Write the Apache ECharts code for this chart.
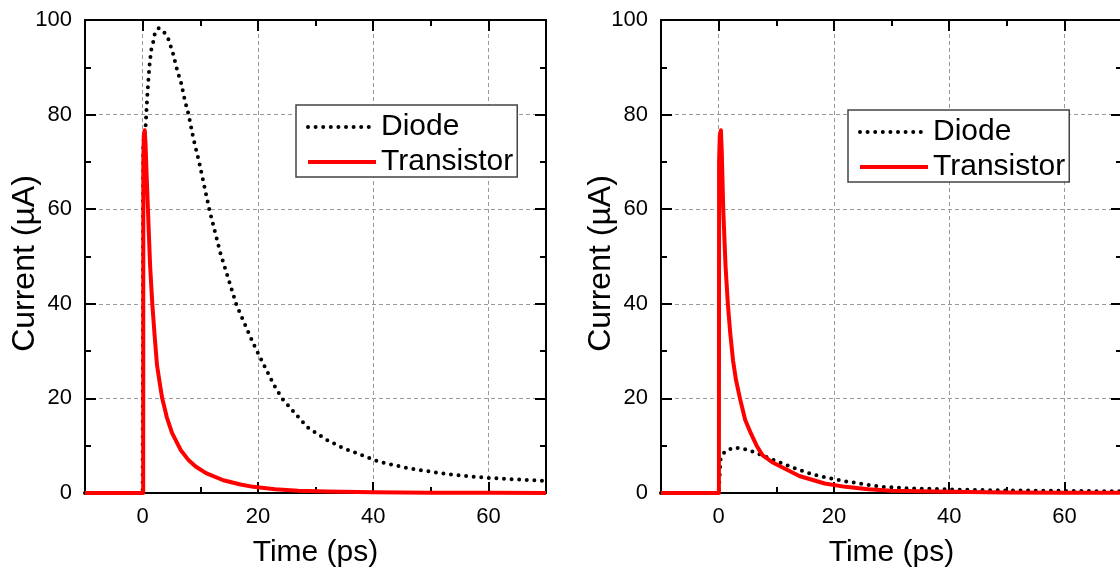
<!DOCTYPE html>
<html>
<head>
<meta charset="utf-8">
<script src="https://cdn.jsdelivr.net/npm/echarts@6/dist/echarts.min.js"></script>
<style>
  html, body { margin: 0; padding: 0; background: #fff; }
  #chart { width: 1120px; height: 569px; }
</style>
</head>
<body>
<div id="chart"></div>
<script>
// Panel A: diode and transistor current pulses (time in ps, current in µA)
const timeDiodeA = [-10, 0, 0.1, 0.5, 0.8, 1.0, 1.2, 1.5, 1.85, 2.1, 2.8, 3.7, 4.5, 5.3, 6.0, 6.7, 7.3, 8.0, 8.8, 9.8, 11.6, 13.5, 16.3, 18.7, 19.6, 22.8, 24.2, 27.7, 28.8, 32, 34.6, 41, 46.2, 52.8, 59.7, 69.3, 70];
const currentDiodeA = [0, 0, 74, 77.1, 83.8, 87.3, 90.5, 93.7, 95.4, 97, 98.3, 97.5, 95.9, 92.8, 89.4, 86.6, 83.1, 79.9, 75, 70, 59.8, 50.7, 39.7, 33.0, 30.6, 22.8, 20, 15.1, 13.7, 11.2, 9.6, 6.6, 5.2, 4.0, 3.2, 2.6, 2.55];
const timeTransA = [-10, 0.1, 0.12, 0.2, 0.35, 0.5, 0.7, 0.92, 1.3, 1.68, 2.1, 2.5, 3.0, 3.4, 4.2, 5.1, 6.6, 8.0, 9.2, 11, 14, 17, 19.2, 23, 27, 32, 40, 50, 60, 70];
const currentTransA = [0, 0, 70, 75.5, 76.7, 74, 67, 60, 48, 40, 33, 27, 23, 20, 16, 12.7, 9.1, 6.9, 5.6, 4.2, 2.7, 1.8, 1.3, 0.8, 0.5, 0.3, 0.15, 0.07, 0.03, 0.02];

// Panel B
const timeDiodeB = [-10, 0, 0.35, 1.05, 2.5, 3.8, 5.2, 6.3, 8.9, 10.3, 11.4, 12.8, 14.0, 15.4, 16.7, 19.3, 21.9, 25, 28.4, 33, 40, 50, 60, 70];
const currentDiodeB = [0, 0, 7.3, 8.7, 9.6, 9.5, 9.1, 8.6, 7.3, 6.6, 6.1, 5.4, 4.9, 4.3, 3.8, 3.1, 2.5, 1.9, 1.3, 1.0, 0.75, 0.55, 0.45, 0.35];
const timeTransB = [-10, 0.05, 0.08, 0.2, 0.4, 0.55, 0.8, 1.2, 1.6, 2.0, 2.5, 3.0, 3.7, 4.6, 5.6, 6.6, 7.6, 9.3, 11.1, 14, 18.4, 22, 26, 30, 40, 50, 60, 70];
const currentTransB = [0, 0, 70, 75.5, 76.7, 72, 60, 48, 40, 34, 28, 24, 20, 15.5, 12.6, 10, 8.0, 6.5, 5.4, 3.6, 2.0, 1.3, 0.8, 0.5, 0.25, 0.12, 0.06, 0.03];

const seriesNames = ['Diode', 'Transistor'];
const xTitle = 'Time (ps)';
const yTitle = 'Current (µA)';

const FONT = '"Liberation Sans", Arial, sans-serif';
const zip = (xs, ys) => xs.map((x, i) => [x, ys[i]]);

const diodeLine = { color: '#000', width: 4, type: [0, 7.6], cap: 'round' };
const transLine = { color: '#ff0000', width: 4, cap: 'butt', join: 'round' };

const frameLine = { show: true, onZero: false, lineStyle: { color: '#000', width: 2 } };
const gridDash = { show: true, lineStyle: { color: '#9a9a9a', width: 1, type: [4, 3] } };

function xAxesFor(g) {
  const base = { type: 'value', gridIndex: g, min: -10, max: 70 };
  return [
    // bottom: major ticks, labels, grid lines
    Object.assign({}, base, {
      position: 'bottom', splitNumber: 4,
      axisLine: frameLine,
      axisTick: { show: true, inside: true, length: 11, lineStyle: { color: '#000', width: 2 } },
      axisLabel: { show: true, margin: 13, color: '#000', fontSize: 22, fontFamily: FONT, showMinLabel: false, showMaxLabel: false },
      splitLine: gridDash,
      name: xTitle, nameLocation: 'middle', nameGap: 45,
      nameTextStyle: { color: '#000', fontSize: 30, fontFamily: FONT }
    }),
    // bottom: minor ticks at odd tens
    Object.assign({}, base, {
      position: 'bottom', interval: 20,
      axisLine: { show: false, onZero: false },
      axisTick: { show: true, inside: true, length: 6, lineStyle: { color: '#000', width: 2 } },
      axisLabel: { show: false }, splitLine: { show: false }
    }),
    // top mirror: major ticks
    Object.assign({}, base, {
      position: 'top', splitNumber: 4,
      axisLine: frameLine,
      axisTick: { show: true, inside: true, length: 11, lineStyle: { color: '#000', width: 2 } },
      axisLabel: { show: false }, splitLine: { show: false }
    }),
    // top mirror: minor ticks
    Object.assign({}, base, {
      position: 'top', interval: 20,
      axisLine: { show: false, onZero: false },
      axisTick: { show: true, inside: true, length: 6, lineStyle: { color: '#000', width: 2 } },
      axisLabel: { show: false }, splitLine: { show: false }
    })
  ];
}

function yAxesFor(g) {
  const base = {
    type: 'value', gridIndex: g, min: 0, max: 100, interval: 20,
    axisLine: frameLine,
    axisTick: { show: true, inside: true, length: 11, lineStyle: { color: '#000', width: 2 } },
    minorTick: { show: true, splitNumber: 2, length: 6, lineStyle: { color: '#000', width: 2 } }
  };
  return [
    Object.assign({}, base, {
      position: 'left',
      axisLabel: { show: true, margin: 13, color: '#000', fontSize: 22, fontFamily: FONT },
      splitLine: gridDash,
      name: yTitle, nameLocation: 'middle', nameGap: 44, nameRotate: 90,
      nameMoveOverlap: false,
      nameTextStyle: { color: '#000', fontSize: 32, fontFamily: FONT, padding: [0, 14, 0, 0] }
    }),
    Object.assign({}, base, {
      position: 'right',
      axisLabel: { show: false }, splitLine: { show: false }
    })
  ];
}

function lineSeries(name, data, xIdx, yIdx) {
  const isDiode = name === 'Diode';
  return {
    name: name, type: 'line', data: data,
    xAxisIndex: xIdx, yAxisIndex: yIdx,
    showSymbol: false, symbol: 'none', animation: false, z: 3,
    lineStyle: isDiode ? diodeLine : transLine,
    itemStyle: { color: isDiode ? '#000' : '#ff0000' }
  };
}

function legendAt(left, top) {
  return {
    data: [
      { name: seriesNames[0], lineStyle: diodeLine, itemStyle: { opacity: 0 } },
      { name: seriesNames[1], lineStyle: transLine, itemStyle: { opacity: 0 } }
    ],
    orient: 'vertical', left: left, top: top,
    backgroundColor: '#fff', borderColor: '#444', borderWidth: 1.5, borderRadius: 0,
    padding: [7, 4, 0, 10], itemGap: 5, itemWidth: 68, itemHeight: 16,
    itemStyle: { opacity: 0 },
    textStyle: { color: '#000', fontSize: 30, fontFamily: FONT },
    selectedMode: false, z: 10
  };
}

const chart = echarts.init(document.getElementById('chart'), null, { renderer: 'canvas' });
chart.setOption({
  backgroundColor: '#fff',
  animation: false,
  grid: [
    { left: 85, top: 20, width: 461, height: 473, outerBoundsMode: 'none', containLabel: false },
    { left: 661, top: 20, width: 461, height: 473, outerBoundsMode: 'none', containLabel: false }
  ],
  xAxis: xAxesFor(0).concat(xAxesFor(1)),
  yAxis: yAxesFor(0).concat(yAxesFor(1)),
  legend: [legendAt(296, 105), legendAt(848, 110)],
  series: [
    lineSeries('Diode', zip(timeDiodeA, currentDiodeA), 0, 0),
    lineSeries('Transistor', zip(timeTransA, currentTransA), 0, 0),
    lineSeries('Diode', zip(timeDiodeB, currentDiodeB), 4, 2),
    lineSeries('Transistor', zip(timeTransB, currentTransB), 4, 2)
  ]
});
</script>
</body>
</html>
